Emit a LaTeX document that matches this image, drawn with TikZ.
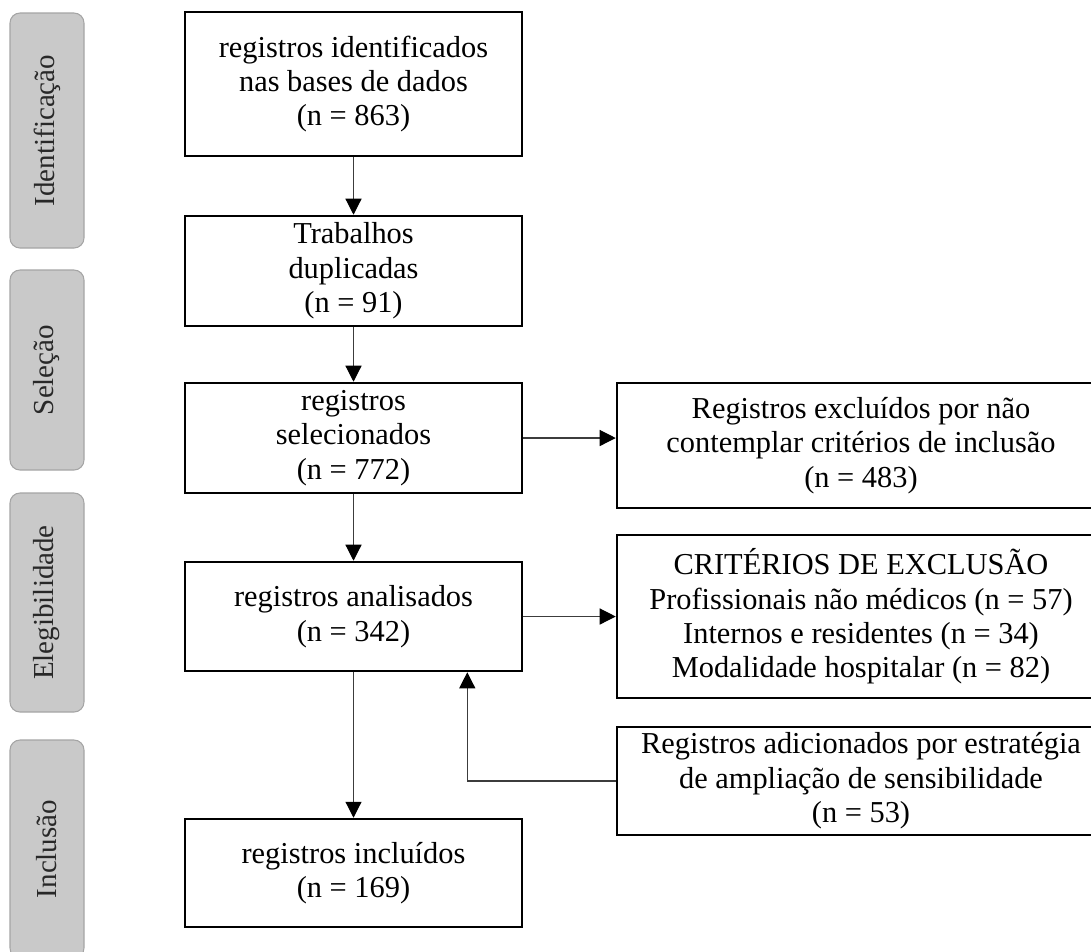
\documentclass[tikz,border=0pt]{standalone}
\usepackage{fontspec}
\setmainfont{Liberation Serif}
\usetikzlibrary{arrows.meta}
\definecolor{phasefill}{RGB}{201,201,201}
\definecolor{phaseline}{RGB}{165,165,165}
\definecolor{phasetext}{RGB}{40,40,40}
\definecolor{linkgray}{RGB}{60,60,60}
\begin{document}
\begin{tikzpicture}[x=0.75pt,y=-0.75pt,
  txt/.style={font=\fontsize{22.8}{25.8}\selectfont, align=center},
  flowbox/.style={txt, draw=black, line width=1.9pt, rectangle, inner sep=0pt,
    minimum width=252.75pt},
  sidebox/.style={txt, draw=black, line width=1.9pt, rectangle, inner sep=0pt,
    minimum width=366pt},
  phase/.style={font=\fontsize{21.75}{24.75}\selectfont, text=phasetext,
    draw=phaseline, line width=0.8pt, fill=phasefill, rounded corners=7.5pt,
    inner sep=0pt, rotate=90, minimum height=55.5pt},
  link/.style={draw=linkgray, line width=0.9pt,
    -{Triangle[length=12pt,width=12pt,color=black]}}
]
\useasboundingbox (0,0) rectangle (1091,951);

% phase labels on the left
\node[phase, minimum width=176.25pt] (pid)  at (47,130.5) {Identificação};
\node[phase, minimum width=150pt]    (psel) at (47,370)   {Seleção};
\node[phase, minimum width=164.25pt] (pele) at (47,602.5) {Elegibilidade};
\node[phase, minimum width=163.5pt]  (pinc) at (47,849)   {Inclusão};

% main flow
\node[flowbox, minimum height=108pt]   (b1) at (353.5,84)    {registros identificados\\nas bases de dados\\(n = 863)};
\node[flowbox, minimum height=82.5pt]  (b2) at (353.5,271)   {Trabalhos\\duplicadas\\(n = 91)};
\node[flowbox, minimum height=82.5pt]  (b3) at (353.5,438)   {registros\\selecionados\\(n = 772)};
\node[flowbox, minimum height=81.75pt] (b4) at (353.5,616.5) {registros analisados\\(n = 342)};
\node[flowbox, minimum height=81pt]    (b5) at (353.5,873)   {registros incluídos\\(n = 169)};

% side boxes (their right side runs past the page edge)
\node[sidebox, minimum height=93.75pt]  (r1) at (861,445.5) {Registros excluídos por não\\contemplar critérios de inclusão\\(n = 483)};
\node[sidebox, minimum height=122.25pt] (r2) at (861,616.5) {CRITÉRIOS DE EXCLUSÃO\\Profissionais não médicos (n = 57)\\Internos e residentes (n = 34)\\Modalidade hospitalar (n = 82)};
\node[sidebox, minimum height=81pt]     (r3) at (861,781)   {Registros adicionados por estratégia\\de ampliação de sensibilidade\\(n = 53)};

% connectors
\draw[link] (b1) -- (b2);
\draw[link] (b2) -- (b3);
\draw[link] (b3) -- (b4);
\draw[link] (b4) -- (b5);
\draw[link] (b3.east) -- (b3.east -| r1.west);
\draw[link] (b4.east) -- (b4.east -| r2.west);
\draw[link] (r3.west) -| ([xshift=-42pt]b4.south east);
\end{tikzpicture}
\end{document}
